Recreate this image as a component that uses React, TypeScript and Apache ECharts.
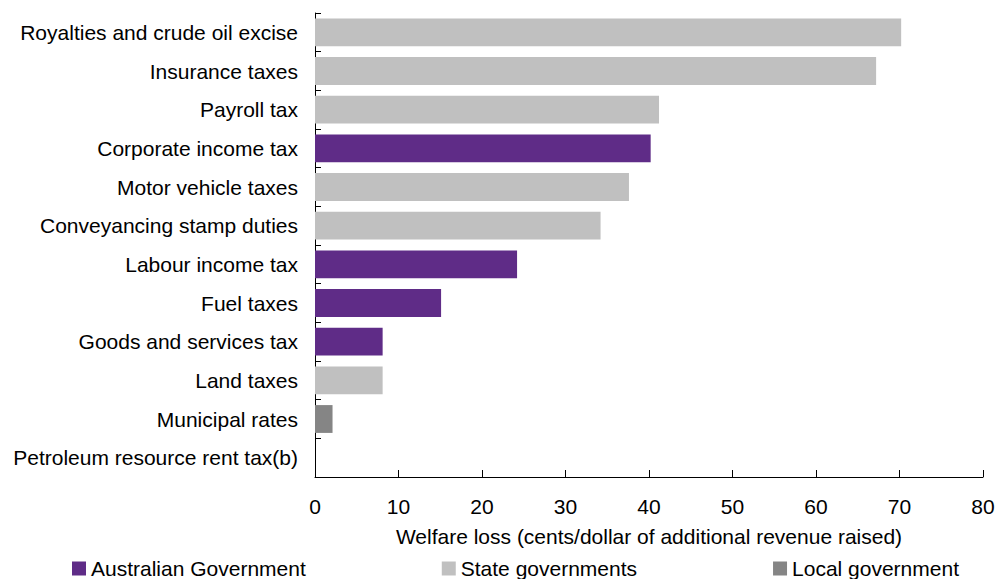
import React, { useEffect, useRef } from "react";
import * as echarts from "echarts";

const categories = [
  "Royalties and crude oil excise",
  "Insurance taxes",
  "Payroll tax",
  "Corporate income tax",
  "Motor vehicle taxes",
  "Conveyancing stamp duties",
  "Labour income tax",
  "Fuel taxes",
  "Goods and services tax",
  "Land taxes",
  "Municipal rates",
  "Petroleum resource rent tax(b)",
];

const australianGovernment = [null, null, null, 40.2, null, null, 24.2, 15.1, 8.1, null, null, 0];
const stateGovernments = [70.2, 67.2, 41.2, null, 37.6, 34.2, null, null, null, 8.1, null, null];
const localGovernment = [null, null, null, null, null, null, null, null, null, null, 2.1, null];

const xTicks = [0, 80, 10];

export default function App() {
  const ref = useRef<HTMLDivElement>(null);
  useEffect(() => {
    if (!ref.current) return;
    const chart = echarts.init(ref.current, undefined, { renderer: "svg" });
    const font = "'Liberation Sans', Arial, sans-serif";
    chart.setOption({
      animation: false,
      grid: { left: 315, right: 15, top: 13, bottom: 102, containLabel: false },
      legend: {
        left: 67,
        top: 553,
        itemWidth: 14,
        itemHeight: 14,
        itemGap: 136,
        icon: "rect",
        textStyle: { fontFamily: font, fontSize: 21, color: "#000" },
        data: ["Australian Government", "State governments", "Local government"],
      },
      xAxis: {
        type: "value",
        min: xTicks[0],
        max: xTicks[1],
        interval: xTicks[2],
        name: "Welfare loss (cents/dollar of additional revenue raised)",
        nameLocation: "middle",
        nameGap: 49,
        nameTextStyle: { fontFamily: font, fontSize: 21, color: "#000" },
        axisLine: { show: true, lineStyle: { color: "#000", width: 1 } },
        axisTick: { show: true, inside: true, length: 7, lineStyle: { color: "#000" } },
        axisLabel: { fontFamily: font, fontSize: 21, color: "#000", margin: 19 },
        splitLine: { show: false },
      },
      yAxis: {
        type: "category",
        inverse: true,
        data: categories,
        axisLine: { show: true, lineStyle: { color: "#000", width: 1 } },
        axisTick: { show: true, inside: true, length: 6, lineStyle: { color: "#000" } },
        axisLabel: { fontFamily: font, fontSize: 21, color: "#000", margin: 17 },
      },
      series: [
        {
          name: "Australian Government",
          type: "bar",
          stack: "t",
          data: australianGovernment,
          barCategoryGap: "28%",
          itemStyle: { color: "#5F2C87" },
        },
        {
          name: "State governments",
          type: "bar",
          stack: "t",
          data: stateGovernments,
          barCategoryGap: "28%",
          itemStyle: { color: "#C0C0C0" },
        },
        {
          name: "Local government",
          type: "bar",
          stack: "t",
          data: localGovernment,
          barCategoryGap: "28%",
          itemStyle: { color: "#858585" },
        },
      ],
    });
    return () => chart.dispose();
  }, []);
  return <div ref={ref} style={{ width: 998, height: 579, position: "absolute", left: 0, top: 0 }} />;
}
